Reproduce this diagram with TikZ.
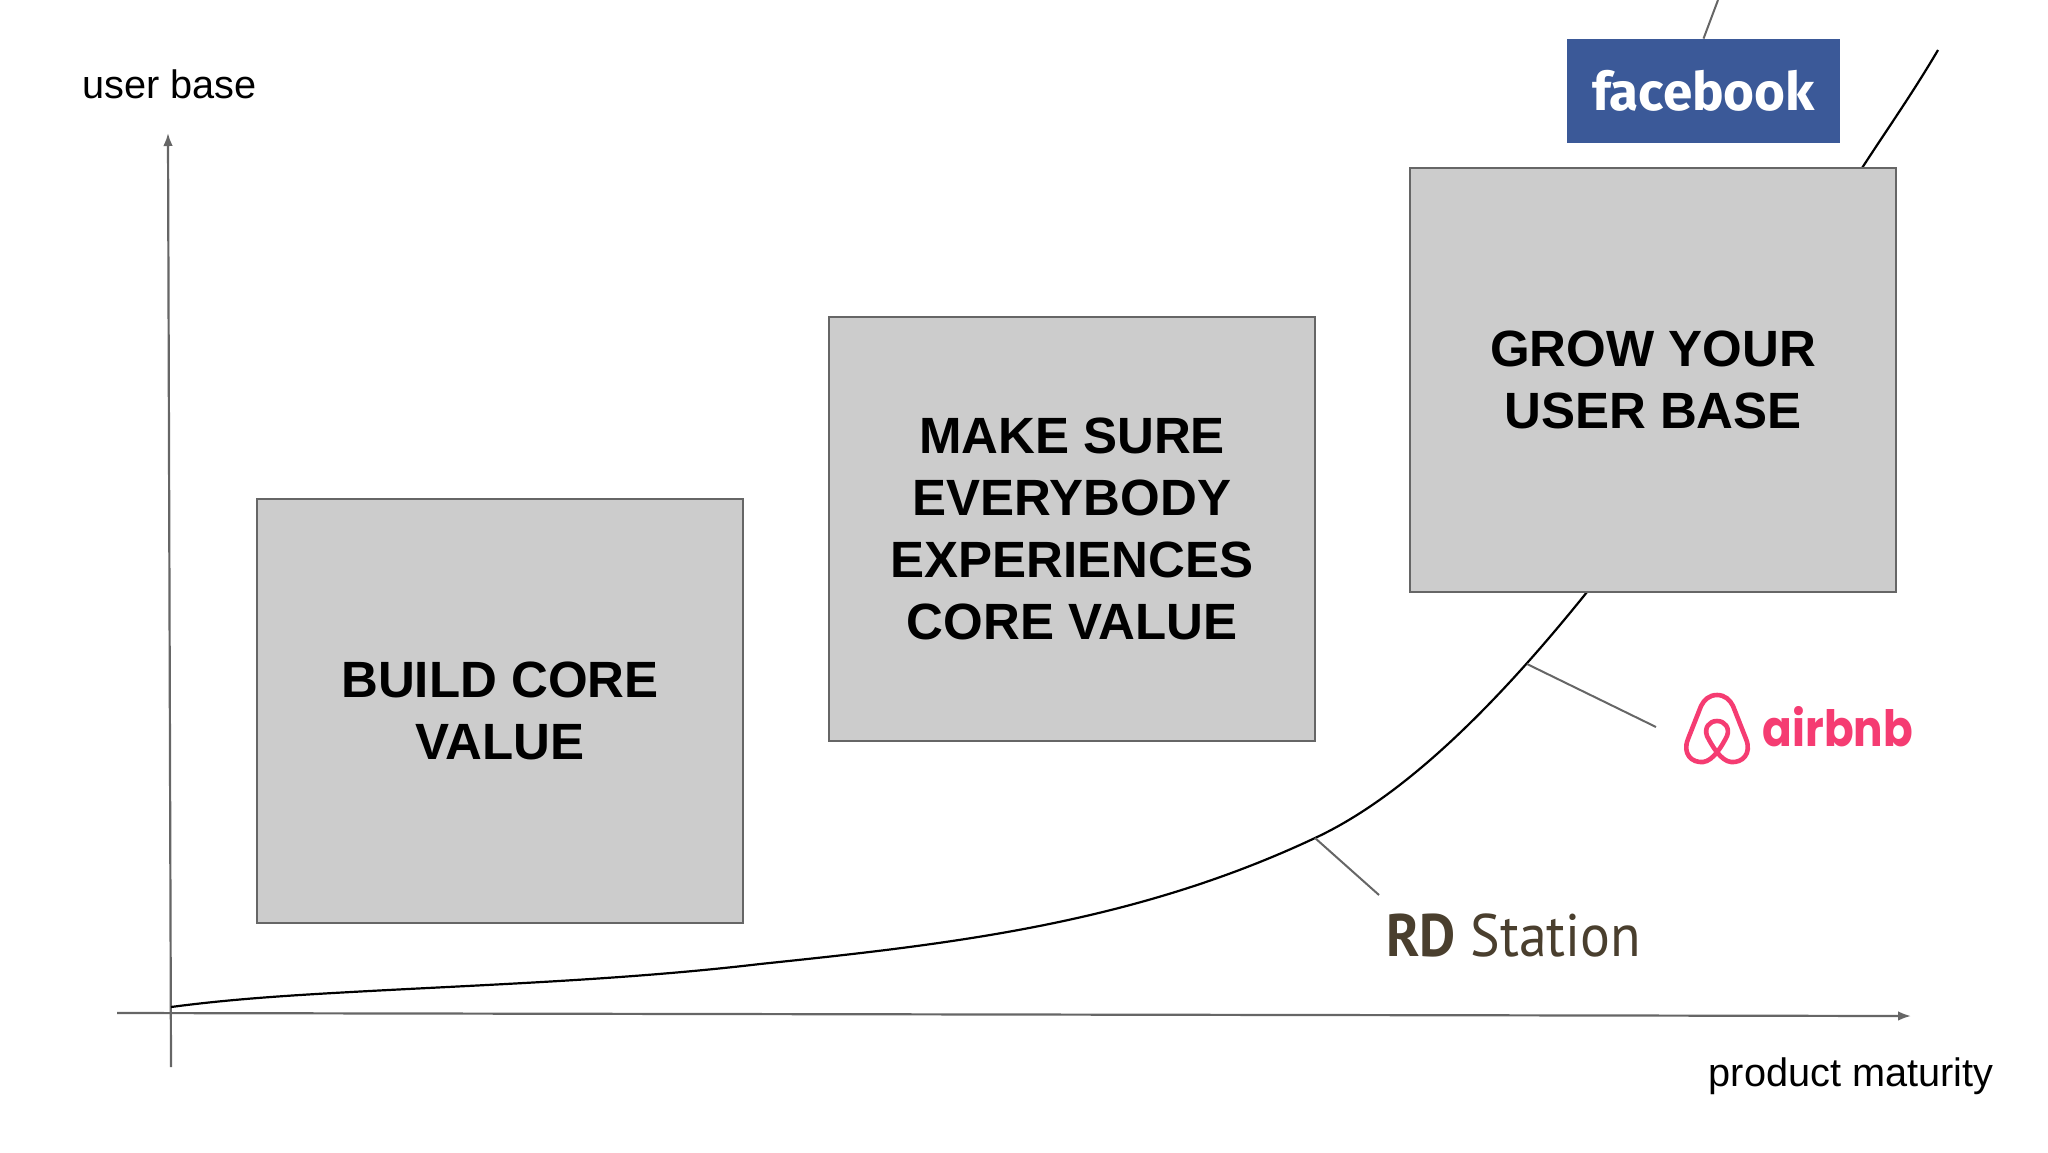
\documentclass[tikz,border=0pt]{standalone}
\usepackage{fontspec}
\usetikzlibrary{arrows.meta}
\setmainfont{Liberation Sans}
\newfontfamily\fbfont{Fira Sans}
\newfontfamily\abfont[FakeStretch=0.875]{Poppins}
\newfontfamily\rdfont[FakeStretch=0.93]{PT Sans}

\definecolor{boxgray}{HTML}{CCCCCC}
\definecolor{linegray}{HTML}{666666}
\definecolor{fbblue}{HTML}{3B5998}
\definecolor{abpink}{HTML}{F53C72}
\definecolor{rdbrown}{HTML}{4A3F2E}

\begin{document}
\begin{tikzpicture}[
            x = 0.5pt, y = -0.5pt, % one unit is one pixel of the reference
            > = {Latex[length=6.5pt,width=4.8pt]}, % arrow head style
            axis/.style = {draw=linegray, line width=1.1pt},
            tick/.style = {draw=linegray, line width=1pt},
            stage/.style = {draw=linegray, fill=boxgray, line width=1pt,
                minimum width=243pt, minimum height=212pt, align=center,
                font=\fontsize{25.5}{31}\selectfont\bfseries},
            caption/.style = {font=\fontsize{19.85}{24}\selectfont}
        ]

	\useasboundingbox (0,0) rectangle (2048,1152);

	% axes
	\coordinate (Ytop) at (168,133);
	\coordinate (Ybot) at (171,1067);
	\coordinate (Xleft) at (117,1013);
	\coordinate (Xright) at (1911,1016);
	\draw[axis,->] (Ybot) -- (Ytop);
	\draw[axis,->] (Xleft) -- (Xright);

	\node[caption] (yname) at (169.5,84) {user base};
	\node[caption] (xname) at (1851,1076) {product maturity};

	% growth curve, the boxes cover part of it
	\coordinate (C0) at (171,1007);
	\coordinate (C1) at (1315,838);
	\coordinate (C2) at (1527,664);
	\coordinate (C3) at (1938,50);
	\draw[black, line width=1.1pt] (C0)
		.. controls (231,999) and (291,995.3) .. (351,992)
		.. controls (487,984.5) and (624,980) .. (760,964)
		.. controls (945,944.6) and (1130,925) .. (C1)
		.. controls (1405,796) and (1497,704) .. (1587,592)
		.. controls (1678.7,477.4) and (1770.3,310) .. (1862,168)
		.. controls (1887.3,129) and (1912.7,93) .. (C3);

	\node[stage] (core) at (500,710.5) {BUILD CORE\\VALUE};
	\node[stage] (experience) at (1072,529) {MAKE SURE\\EVERYBODY\\EXPERIENCES\\CORE VALUE};
	\node[stage] (grow) at (1653,380) {GROW YOUR\\USER BASE};

	% logos
	\node[fill=fbblue, text=white, minimum width=136.5pt, minimum height=52pt, inner sep=0pt,
		font=\fontsize{26.5}{30}\fbfont\bfseries] (fb) at (1703.5,91) {facebook};
	\node[text=abpink, inner sep=0pt, font=\fontsize{25}{28}\abfont\bfseries] (ab) at (1838,726.5) {airbnb};
	\node[text=rdbrown, inner sep=0pt, font=\fontsize{30}{34}\rdfont] (rd) at (1513.7,935) {\textbf{RD} Station};

	\draw[abpink, line width=2.3pt, line join=round] (1717,695)
		.. controls (1709,695) and (1704,700) .. (1701,706) -- (1688,739)
		.. controls (1682,754) and (1692,763) .. (1703,762)
		.. controls (1713,761) and (1722,746) .. (1727,736)
		.. controls (1730,728) and (1725,721) .. (1717,721)
		.. controls (1709,721) and (1704,728) .. (1707,736)
		.. controls (1712,746) and (1721,761) .. (1731,762)
		.. controls (1742,763) and (1752,754) .. (1746,739) -- (1733,706)
		.. controls (1730,700) and (1725,695) .. (1717,695) -- cycle;

	% leader lines
	\coordinate (fbfree) at (1718,0);
	\coordinate (abfree) at (1656,727);
	\coordinate (rdfree) at (1379,895);
	\draw[tick] (fb.north) -- (fbfree);
	\draw[tick] (C2) -- (abfree);
	\draw[tick] (C1) -- (rdfree);

\end{tikzpicture}
\end{document}
